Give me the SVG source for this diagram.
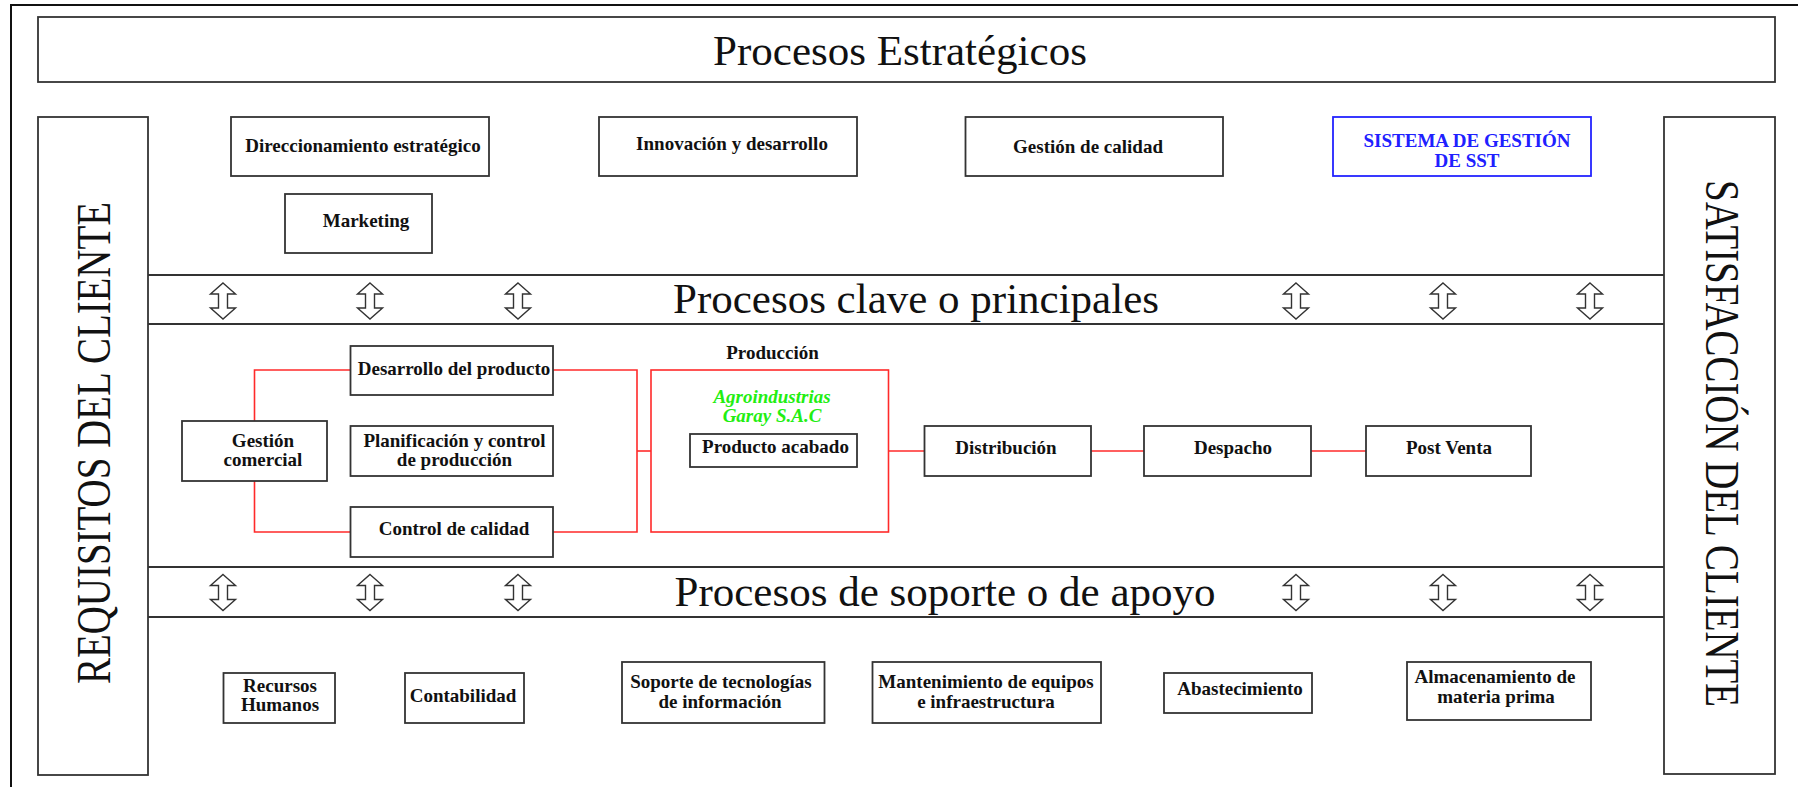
<svg xmlns="http://www.w3.org/2000/svg" width="1798" height="787" viewBox="0 0 1798 787">
<defs>
<style>
.bx{fill:#fff;stroke:#333;stroke-width:1.8}
.bl{fill:none;stroke:#333;stroke-width:1.8}
.t{font-family:"Liberation Serif","Times New Roman",serif;font-weight:bold;font-size:19px;fill:#111;text-anchor:middle}
.big{font-family:"Liberation Serif","Times New Roman",serif;font-size:43px;fill:#111;text-anchor:middle}
.side{font-family:"Liberation Serif","Times New Roman",serif;font-size:37px;fill:#111;text-anchor:middle}
.red{fill:none;stroke:#ff2a2a;stroke-width:1.6}
.arr{fill:#fff;stroke:#333;stroke-width:1.4;stroke-linejoin:miter}
</style>
<path id="dar" d="M0,-18 L12.5,-7 L4.5,-7 L4.5,7 L12.5,7 L0,18 L-12.5,7 L-4.5,7 L-4.5,-7 L-12.5,-7 Z"/>
</defs>
<rect width="1798" height="787" fill="#fff"/>
<rect x="11" y="5" width="1800" height="800" fill="none" stroke="#111" stroke-width="2"/>

<g id="estrategicos">
<rect class="bx" x="38" y="17" width="1737" height="65"/>
<text class="big" x="900" y="65">Procesos Estratégicos</text>
</g>

<g id="requisitos">
<rect class="bx" x="38" y="117" width="110" height="658"/>
<text class="side" transform="translate(110,443) rotate(-90) scale(1,1.3)" textLength="482" lengthAdjust="spacingAndGlyphs">REQUISITOS DEL CLIENTE</text>
</g>

<g id="satisfaccion">
<rect class="bx" x="1664" y="117" width="111" height="657"/>
<text class="side" transform="translate(1706,443.5) rotate(90) scale(1,1.3)" textLength="527" lengthAdjust="spacingAndGlyphs">SATISFACCIÓN DEL CLIENTE</text>
</g>

<g id="bands">
<line class="bl" x1="148" y1="275" x2="1664" y2="275"/>
<line class="bl" x1="148" y1="324" x2="1664" y2="324"/>
<line class="bl" x1="148" y1="567" x2="1664" y2="567"/>
<line class="bl" x1="148" y1="617" x2="1664" y2="617"/>
<text class="big" x="916" y="313">Procesos clave o principales</text>
<text class="big" x="945" y="606">Procesos de soporte o de apoyo</text>
<use href="#dar" class="arr" x="223" y="301"/>
<use href="#dar" class="arr" x="370" y="301"/>
<use href="#dar" class="arr" x="518" y="301"/>
<use href="#dar" class="arr" x="1296" y="301"/>
<use href="#dar" class="arr" x="1443" y="301"/>
<use href="#dar" class="arr" x="1590" y="301"/>
<use href="#dar" class="arr" x="223" y="592.5"/>
<use href="#dar" class="arr" x="370" y="592.5"/>
<use href="#dar" class="arr" x="518" y="592.5"/>
<use href="#dar" class="arr" x="1296" y="592.5"/>
<use href="#dar" class="arr" x="1443" y="592.5"/>
<use href="#dar" class="arr" x="1590" y="592.5"/>
</g>

<g id="direccionamiento"><rect class="bx" x="231" y="117" width="258" height="59"/><text class="t" x="363" y="152">Direccionamiento estratégico</text></g>
<g id="marketing"><rect class="bx" x="285" y="194" width="147" height="59"/><text class="t" x="366" y="227">Marketing</text></g>
<g id="innovacion"><rect class="bx" x="599" y="117" width="258" height="59"/><text class="t" x="732" y="150">Innovación y desarrollo</text></g>
<g id="gestion-calidad"><rect class="bx" x="965.5" y="117" width="257.5" height="59"/><text class="t" x="1088" y="153">Gestión de calidad</text></g>
<g id="sst"><rect x="1333" y="117" width="258" height="59" fill="#fff" stroke="#2424ff" stroke-width="1.8"/><text class="t" style="fill:#2020ff" x="1467" y="147">SISTEMA DE GESTIÓN</text><text class="t" style="fill:#2020ff" x="1467" y="167">DE SST</text></g>

<g id="connectors">
<polyline class="red" points="254.5,421 254.5,370 350.5,370"/>
<polyline class="red" points="254.5,481 254.5,532 350.5,532"/>
<polyline class="red" points="553,370 637,370 637,532 553,532"/>
<line class="red" x1="637" y1="451" x2="651" y2="451"/>
<line class="red" x1="888.5" y1="451" x2="924.5" y2="451"/>
<line class="red" x1="1091" y1="451" x2="1144" y2="451"/>
<line class="red" x1="1311" y1="451" x2="1366" y2="451"/>
</g>

<g id="gestion-comercial"><rect class="bx" x="182" y="421" width="145" height="60"/><text class="t" x="263" y="447">Gestión</text><text class="t" x="263" y="466">comercial</text></g>
<g id="desarrollo"><rect class="bx" x="350.5" y="346" width="202.5" height="49"/><text class="t" x="454" y="375">Desarrollo del producto</text></g>
<g id="planificacion"><rect class="bx" x="350.5" y="426" width="202.5" height="50"/><text class="t" x="454.5" y="447">Planificación y control</text><text class="t" x="454.5" y="466">de producción</text></g>
<g id="control"><rect class="bx" x="350.5" y="507" width="202.5" height="50"/><text class="t" x="454" y="535">Control de calidad</text></g>

<g id="produccion">
<text class="t" x="772.5" y="359">Producción</text>
<rect x="651" y="370" width="237.5" height="162" fill="none" stroke="#ff2a2a" stroke-width="1.6"/>
<text class="t" style="fill:#22ee11;font-style:italic" x="772" y="403">Agroindustrias</text>
<text class="t" style="fill:#22ee11;font-style:italic" x="772" y="422">Garay S.A.C</text>
<rect class="bx" x="690" y="434" width="167" height="33"/>
<text class="t" x="775.5" y="453">Producto acabado</text>
</g>

<g id="distribucion"><rect class="bx" x="924.5" y="426" width="166.5" height="50"/><text class="t" x="1006" y="454">Distribución</text></g>
<g id="despacho"><rect class="bx" x="1144" y="426" width="167" height="50"/><text class="t" x="1233" y="454">Despacho</text></g>
<g id="postventa"><rect class="bx" x="1366" y="426" width="165" height="50"/><text class="t" x="1449" y="454">Post Venta</text></g>

<g id="rrhh"><rect class="bx" x="223.5" y="673" width="111.5" height="50"/><text class="t" x="280" y="692">Recursos</text><text class="t" x="280" y="711">Humanos</text></g>
<g id="contabilidad"><rect class="bx" x="405" y="673" width="119" height="50"/><text class="t" x="463" y="702">Contabilidad</text></g>
<g id="soporte-ti"><rect class="bx" x="622" y="662" width="202.5" height="61"/><text class="t" x="721" y="688">Soporte de tecnologías</text><text class="t" x="720" y="708">de información</text></g>
<g id="mantenimiento"><rect class="bx" x="872.5" y="662" width="228.5" height="61"/><text class="t" x="986" y="688">Mantenimiento de equipos</text><text class="t" x="986" y="708">e infraestructura</text></g>
<g id="abastecimiento"><rect class="bx" x="1164" y="673" width="148" height="40"/><text class="t" x="1240" y="695">Abastecimiento</text></g>
<g id="almacenamiento"><rect class="bx" x="1407" y="662" width="184" height="58"/><text class="t" x="1495" y="683">Almacenamiento de</text><text class="t" x="1496" y="703">materia prima</text></g>
</svg>
